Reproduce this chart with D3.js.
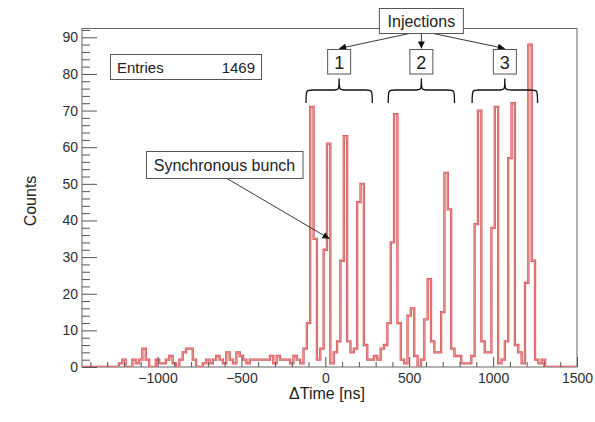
<!DOCTYPE html>
<html>
<head>
<meta charset="utf-8">
<script src="https://cdn.jsdelivr.net/npm/d3@7"></script>
<style>
  body { margin: 0; background: #fff; }
  svg { display: block; font-family: "Liberation Sans", Arial, Helvetica, sans-serif; }
</style>
</head>
<body>
<svg id="chart" width="595" height="422"></svg>
<script>
// Histogram of time differences: 20 ns bins starting at -1450 ns
const binStart = -1450;
const binWidth = 20;
const counts = [
  0, 0, 0, 0, 0, 0, 0, 0, 0, 0,   0, 1, 2, 0, 0, 2, 1, 2, 5, 2,
  0, 0, 2, 1, 1, 2, 3, 1, 0, 2,   4, 5, 5, 2, 0, 0, 1, 2, 1, 2,
  3, 2, 1, 4, 2, 1, 4, 3, 2, 1,   2, 2, 2, 2, 2, 2, 3, 1, 3, 2,
  2, 2, 1, 3, 2, 1, 5, 12, 71, 35, 2, 5, 32, 61, 1, 4, 7, 29, 63, 7,
  4, 5, 45, 50, 6, 2, 2, 3, 2, 5,  6, 12, 34, 69, 12, 2, 1, 14, 16, 3,
  0, 2, 13, 24, 7, 4, 4, 15, 53, 43, 5, 3, 3, 1, 1, 1, 3, 39, 70, 7,
  4, 4, 38, 71, 1, 2, 7, 57, 72, 6, 4, 1, 23, 88, 29, 2, 1, 2, 0, 0,
  0, 0, 0, 0, 0, 0, 0, 0
];
const entries = 1469;

// Axis ticks
const xMajor = [-1000, -500, 0, 500, 1000, 1500];
const xMinor = d3.range(-1400, 1500, 100).filter(v => v % 500 !== 0);
const yMajor = d3.range(0, 91, 10);
const yMinor = d3.range(0, 93, 2).filter(v => v % 10 !== 0);

// Annotations
const injectionLabels = ["1", "2", "3"];
const injectionWindows = [[-115, 280], [375, 770], [875, 1265]]; // ns
const syncBunch = { time: 25, count: 35, label: "Synchronous bunch" };
const xTitle = "\u0394Time [ns]";
const yTitle = "Counts";

// Layout
const frame = { left: 82, right: 577, top: 28.5, bottom: 367 };
const x = d3.scaleLinear().domain([-1450, 1500]).range([frame.left, frame.right]);
const y = d3.scaleLinear().domain([0, 92.4]).range([frame.bottom, frame.top]);

const svg = d3.select("#chart");
const lineCol = "#555";
const textCol = "#2e2e2e";

const defs = svg.append("defs");
defs.append("clipPath").attr("id", "plotArea").append("rect")
  .attr("x", frame.left).attr("y", frame.top)
  .attr("width", frame.right - frame.left).attr("height", frame.bottom - frame.top);
defs.append("marker").attr("id", "head")
  .attr("viewBox", "0 0 10 10").attr("refX", 10).attr("refY", 5)
  .attr("markerWidth", 9).attr("markerHeight", 7).attr("markerUnits", "userSpaceOnUse")
  .attr("orient", "auto")
  .append("path").attr("d", "M0,0 L10,5 L0,10 Z").attr("fill", "#111");

// Frame
svg.append("rect")
  .attr("x", frame.left).attr("y", frame.top)
  .attr("width", frame.right - frame.left).attr("height", frame.bottom - frame.top)
  .attr("fill", "none").attr("stroke", "#666").attr("stroke-width", 1);

// Histogram outline (red edge with a pale core)
const pts = counts.map((c, i) => [binStart + i * binWidth, c]);
pts.push([binStart + counts.length * binWidth, counts[counts.length - 1]]);
const step = d3.line().x(d => x(d[0])).y(d => y(d[1])).curve(d3.curveStepAfter);
const hist = svg.append("g").attr("clip-path", "url(#plotArea)");
hist.append("path").attr("d", step(pts))
  .attr("fill", "none").attr("stroke", "#d65252").attr("stroke-width", 2.3)
  .attr("stroke-linejoin", "miter");
hist.append("path").attr("d", step(pts))
  .attr("fill", "none").attr("stroke", "#efaeae").attr("stroke-width", 0.7);

// Axes (ticks inside the frame)
function styleAxis(g) {
  g.select(".domain").remove();
  g.selectAll(".tick line").attr("stroke", lineCol);
  g.selectAll("text").attr("fill", textCol).style("font-size", "14px");
}
svg.append("g").attr("transform", `translate(0,${frame.bottom})`)
  .call(d3.axisBottom(x).tickValues(xMinor).tickSize(-5).tickFormat(""))
  .call(styleAxis);
svg.append("g").attr("transform", `translate(0,${frame.bottom})`)
  .call(d3.axisBottom(x).tickValues(xMajor).tickSize(-10).tickPadding(6).tickFormat(d3.format("d")))
  .call(styleAxis);
svg.append("g").attr("transform", `translate(${frame.left},0)`)
  .call(d3.axisLeft(y).tickValues(yMinor).tickSize(-8).tickFormat(""))
  .call(styleAxis);
svg.append("g").attr("transform", `translate(${frame.left},0)`)
  .call(d3.axisLeft(y).tickValues(yMajor).tickSize(-15).tickPadding(4).tickFormat(d3.format("d")))
  .call(styleAxis);

// Axis titles
svg.append("text").attr("x", 327).attr("y", 399).attr("text-anchor", "middle")
  .attr("fill", "#222").style("font-size", "16px").text(xTitle);
svg.append("text").attr("transform", "translate(36,201) rotate(-90)").attr("text-anchor", "middle")
  .attr("fill", "#222").style("font-size", "16px").text(yTitle);

// Stats box
const stats = svg.append("g");
stats.append("rect").attr("x", 110.5).attr("y", 54.5).attr("width", 151).attr("height", 25)
  .attr("fill", "#fff").attr("stroke", lineCol);
stats.append("text").attr("x", 117).attr("y", 72.5).attr("fill", "#222")
  .style("font-size", "15px").text("Entries");
stats.append("text").attr("x", 255).attr("y", 72.5).attr("text-anchor", "end").attr("fill", "#222")
  .style("font-size", "15px").text(entries);

// Injection annotations
const ann = svg.append("g");
const braceTop = 78.5, braceMid = 90, braceEnd = 103;
function bracePath(x0, x1) {
  const cx = (x0 + x1) / 2, r = 7;
  return `M${x0},${braceEnd} C${x0},${braceMid} ${x0},${braceMid} ${x0 + r},${braceMid}` +
         ` L${cx - r},${braceMid} C${cx},${braceMid} ${cx},${braceMid} ${cx},${braceTop}` +
         ` C${cx},${braceMid} ${cx},${braceMid} ${cx + r},${braceMid}` +
         ` L${x1 - r},${braceMid} C${x1},${braceMid} ${x1},${braceMid} ${x1},${braceEnd}`;
}
const centers = injectionWindows.map(w => x((w[0] + w[1]) / 2));

// Main box and arrows to each group
const mainCx = centers[1];
const arrowStarts = [mainCx - 12, mainCx, mainCx + 12];
centers.forEach((cx, i) => {
  ann.append("line")
    .attr("x1", arrowStarts[i]).attr("y1", 33.5)
    .attr("x2", cx).attr("y2", 48.5)
    .attr("stroke", "#222").attr("stroke-width", 0.9)
    .attr("marker-end", "url(#head)");
});
ann.append("rect").attr("x", mainCx - 42).attr("y", 8.5).attr("width", 84).attr("height", 25)
  .attr("fill", "#fff").attr("stroke", lineCol);
ann.append("text").attr("x", mainCx).attr("y", 27).attr("text-anchor", "middle")
  .attr("fill", "#222").style("font-size", "16px").text("Injections");

injectionWindows.forEach((w, i) => {
  const cx = centers[i];
  ann.append("rect").attr("x", cx - 11.5).attr("y", 49.5).attr("width", 23).attr("height", 24.5)
    .attr("fill", "#fff").attr("stroke", lineCol);
  ann.append("text").attr("x", cx).attr("y", 68.5).attr("text-anchor", "middle")
    .attr("fill", "#222").style("font-size", "18px").text(injectionLabels[i]);
  ann.append("path").attr("d", bracePath(x(w[0]), x(w[1])))
    .attr("fill", "none").attr("stroke", "#111").attr("stroke-width", 1.3);
});

// Synchronous bunch label and arrow
ann.append("line")
  .attr("x1", 227).attr("y1", 178.5)
  .attr("x2", x(syncBunch.time)).attr("y2", y(syncBunch.count))
  .attr("stroke", "#222").attr("stroke-width", 0.9)
  .attr("marker-end", "url(#head)");
ann.append("rect").attr("x", 146.5).attr("y", 151.5).attr("width", 156.5).attr("height", 27)
  .attr("fill", "#fff").attr("stroke", lineCol);
ann.append("text").attr("x", 224.5).attr("y", 170.5).attr("text-anchor", "middle")
  .attr("fill", "#222").style("font-size", "16px").text(syncBunch.label);
</script>
</body>
</html>
